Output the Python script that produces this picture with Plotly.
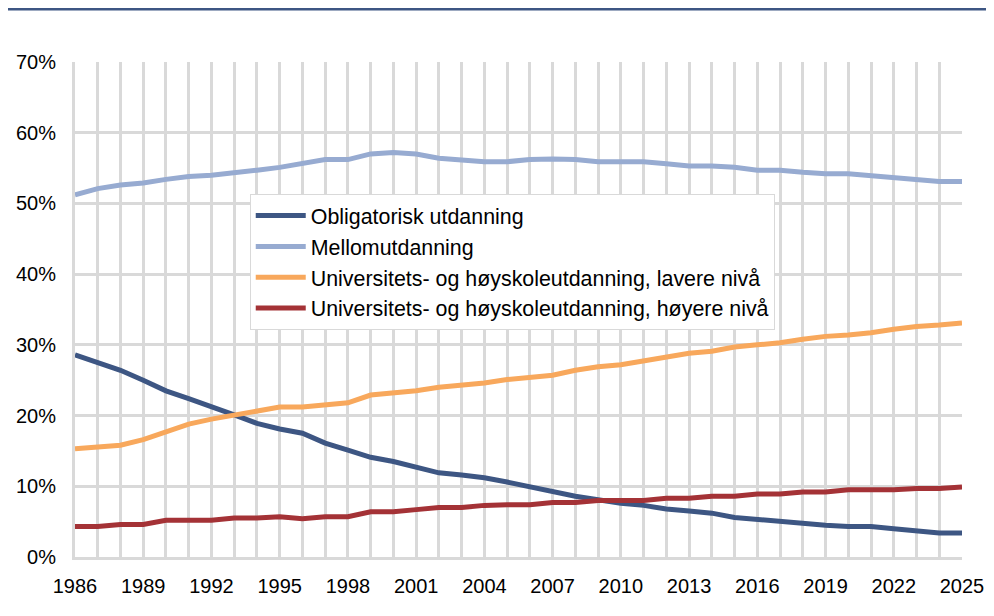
import plotly.graph_objects as go

years = list(range(1986, 2026))
tick_labels = [str(y) if (y - 1986) % 3 == 0 else "" for y in years]

obligatorisk = [28.6, 27.5, 26.4, 25.0, 23.5, 22.4, 21.3, 20.1, 18.9, 18.1,
                17.5, 16.1, 15.1, 14.1, 13.5, 12.7, 11.9, 11.6, 11.2, 10.6,
                9.9, 9.3, 8.6, 8.1, 7.6, 7.3, 6.8, 6.5, 6.2, 5.6,
                5.3, 5.1, 4.8, 4.5, 4.3, 4.3, 4.0, 3.7, 3.4, 3.4]
mellom = [51.2, 52.1, 52.6, 52.9, 53.4, 53.8, 54.0, 54.3, 54.7, 55.1,
          55.7, 56.2, 56.2, 57.0, 57.2, 57.0, 56.4, 56.2, 55.9, 55.9,
          56.2, 56.3, 56.2, 55.9, 55.9, 55.9, 55.6, 55.3, 55.3, 55.1,
          54.7, 54.7, 54.4, 54.2, 54.2, 53.9, 53.6, 53.4, 53.1, 53.1]
lavere = [15.3, 15.6, 15.8, 16.6, 17.7, 18.8, 19.5, 20.1, 20.7, 21.2,
          21.2, 21.5, 21.8, 22.9, 23.2, 23.5, 24.0, 24.3, 24.6, 25.1,
          25.4, 25.7, 26.4, 26.9, 27.2, 27.7, 28.2, 28.8, 29.1, 29.7,
          30.0, 30.3, 30.8, 31.2, 31.4, 31.7, 32.2, 32.6, 32.8, 33.1]
hoyere = [4.3, 4.3, 4.6, 4.6, 5.2, 5.2, 5.2, 5.5, 5.5, 5.7,
          5.4, 5.7, 5.7, 6.4, 6.4, 6.7, 7.0, 7.0, 7.3, 7.4,
          7.4, 7.7, 7.7, 8.0, 8.0, 8.0, 8.3, 8.3, 8.6, 8.6,
          8.9, 8.9, 9.2, 9.2, 9.5, 9.5, 9.5, 9.7, 9.7, 9.9]

series = [
    ("Obligatorisk utdanning", obligatorisk, "#3D5683"),
    ("Mellomutdanning", mellom, "#97ABD1"),
    ("Universitets- og høyskoleutdanning, lavere nivå", lavere, "#F8A85C"),
    ("Universitets- og høyskoleutdanning, høyere nivå", hoyere, "#A43236"),
]

fig = go.Figure()
for name, vals, color in series:
    fig.add_trace(go.Scatter(
        x=years, y=[v / 100 for v in vals], name=name, mode="lines",
        line=dict(color=color, width=5),
    ))

font = "Liberation Sans, Arial, sans-serif"
grid = "#D9D9D9"

fig.update_layout(
    width=986, height=608,
    margin=dict(l=67, r=32, t=54, b=59),
    paper_bgcolor="white", plot_bgcolor="white",
    font=dict(family=font, size=20, color="black"),
    showlegend=True,
    legend=dict(
        x=0.197, y=0.733, xanchor="left", yanchor="top",
        bgcolor="white", bordercolor=grid, borderwidth=1,
        font=dict(family=font, size=21.4, color="black"),
        tracegroupgap=0, itemwidth=50,
    ),
    xaxis=dict(
        range=[1986, 2025], tickvals=years, ticktext=tick_labels,
        showgrid=True, gridcolor=grid, gridwidth=3,
        showline=True, linecolor=grid, linewidth=3,
        zeroline=False, ticks="", ticklabelstandoff=9, automargin=False,
        tickfont=dict(family=font, size=20, color="black"),
    ),
    yaxis=dict(
        range=[0, 0.7], dtick=0.1, tickformat=".0%",
        showgrid=True, gridcolor=grid, gridwidth=3,
        showline=True, linecolor=grid, linewidth=3,
        zeroline=False, ticks="", ticklabelstandoff=12, automargin=False,
        tickfont=dict(family=font, size=20, color="black"),
    ),
    shapes=[dict(type="line", xref="paper", yref="paper",
                 x0=-0.1, x1=1.1, y0=1.107, y1=1.107,
                 line=dict(color="#3D5683", width=3))],
)

fig.write_html("out.html")
